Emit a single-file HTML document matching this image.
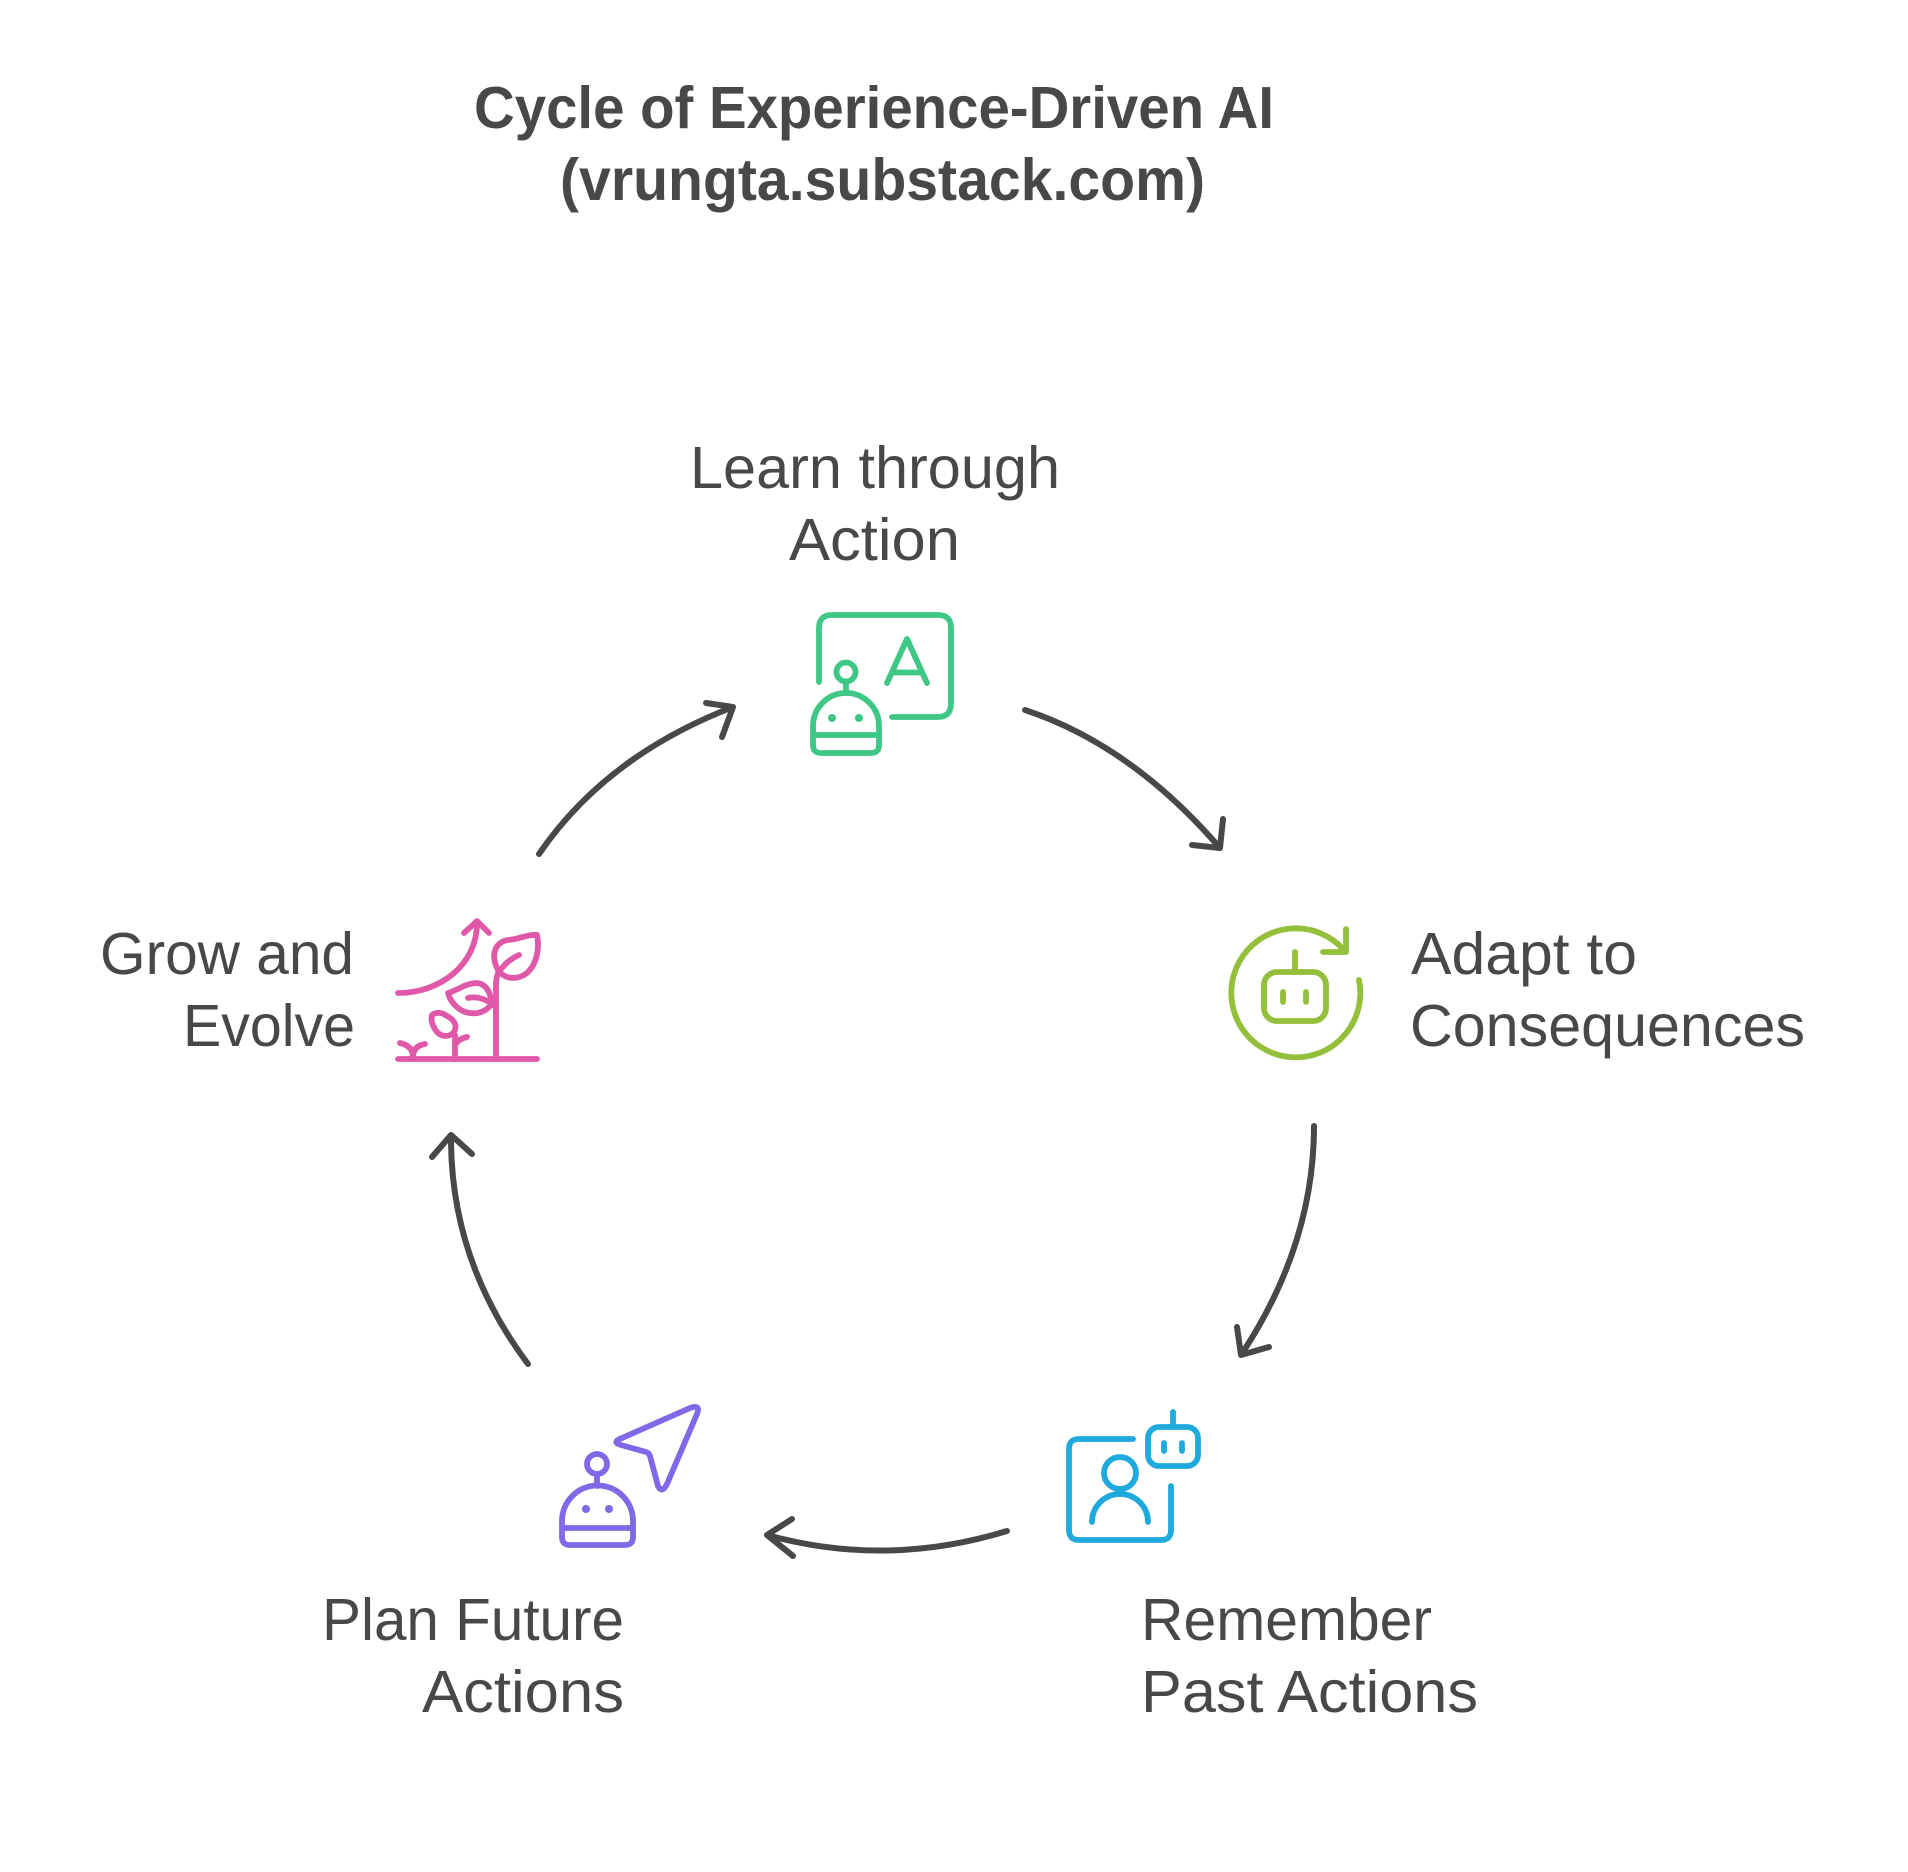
<!DOCTYPE html>
<html>
<head>
<meta charset="utf-8">
<style>
html,body{margin:0;padding:0;background:#fff;}
svg{display:block;}
text{font-family:"Liberation Sans",sans-serif;fill:#484848;}
.t{font-size:59px;font-weight:700;}
.l{font-size:59px;}
.i{fill:none;stroke-width:5.8;stroke-linecap:round;stroke-linejoin:round;}
.a{fill:none;stroke:#484848;stroke-width:6;stroke-linecap:round;stroke-linejoin:round;}
</style>
</head>
<body>
<svg width="1908" height="1872" viewBox="0 0 1908 1872" xmlns="http://www.w3.org/2000/svg">
<rect width="1908" height="1872" fill="#fff"/>

<text class="t" x="474" y="128" textLength="800" lengthAdjust="spacingAndGlyphs">Cycle of Experience-Driven AI</text>
<text class="t" x="560" y="200" textLength="645" lengthAdjust="spacingAndGlyphs">(vrungta.substack.com)</text>

<text class="l" x="690" y="488" textLength="370" lengthAdjust="spacingAndGlyphs">Learn through</text>
<text class="l" x="789" y="560" textLength="171" lengthAdjust="spacingAndGlyphs">Action</text>

<text class="l" x="1411" y="974" textLength="226" lengthAdjust="spacingAndGlyphs">Adapt to</text>
<text class="l" x="1410" y="1046" textLength="395" lengthAdjust="spacingAndGlyphs">Consequences</text>

<text class="l" x="1141" y="1640" textLength="291" lengthAdjust="spacingAndGlyphs">Remember</text>
<text class="l" x="1141" y="1712" textLength="337" lengthAdjust="spacingAndGlyphs">Past Actions</text>

<text class="l" x="322" y="1640" textLength="302" lengthAdjust="spacingAndGlyphs">Plan Future</text>
<text class="l" x="422" y="1712" textLength="202" lengthAdjust="spacingAndGlyphs">Actions</text>

<text class="l" x="100" y="974" textLength="254" lengthAdjust="spacingAndGlyphs">Grow and</text>
<text class="l" x="183" y="1046" textLength="172" lengthAdjust="spacingAndGlyphs">Evolve</text>

<!-- connectors -->
<path class="a" d="M1025 710 Q1131 745 1220 848 M1223 819 L1220 848 L1192 845"/>
<path class="a" d="M1314 1126 Q1314 1245 1241 1355 M1237 1327 L1241 1355 L1269 1347"/>
<path class="a" d="M1007 1531 Q886 1568 767 1535 M792 1519 L767 1535 L793 1556"/>
<path class="a" d="M528 1364 Q450 1260 451 1135 M432 1157 L451 1135 L472 1154"/>
<path class="a" d="M539 854 Q606 756 733 707 M706 703 L733 707 L722 737"/>

<!-- green learn icon -->
<g class="i" stroke="#3EC785">
<path d="M819 682 V628 Q819 615 832 615 H938 Q951 615 951 628 V703 Q951 717 938 717 H892"/>
<path d="M887 683 L907 639 L927 683 M893 672.5 H922"/>
<circle cx="846" cy="672" r="9.5"/>
<path d="M846 682 V692"/>
<path d="M813 735 V726 A33 33 0 0 1 879 726 V745 Q879 753 871 753 H821 Q813 753 813 745 Z M813 735 H879"/>
</g>
<circle cx="832" cy="718" r="4" fill="#3EC785"/>
<circle cx="859" cy="718" r="4" fill="#3EC785"/>

<!-- lime adapt icon -->
<g class="i" stroke="#94BF3A" transform="translate(-1,-1)">
<path d="M1360 981 A64.5 64.5 0 1 1 1345 951"/>
<path d="M1347 930 V953 H1324"/>
<rect x="1265" y="973" width="62" height="49" rx="13"/>
<path d="M1296 953 V973 M1284 993 V1003 M1307 993 V1003"/>
</g>

<!-- blue remember icon -->
<g class="i" stroke="#1FAADD">
<path d="M1133 1439 H1079 Q1069 1439 1069 1449 V1530 Q1069 1540 1079 1540 H1161 Q1171 1540 1171 1530 V1486"/>
<circle cx="1120" cy="1473" r="16"/>
<path d="M1092 1522 A28 28 0 0 1 1148 1522"/>
<rect x="1148" y="1427" width="50" height="39" rx="11"/>
<path d="M1173 1412 V1427 M1164 1443 V1451 M1182 1443 V1451"/>
</g>

<!-- purple plan icon -->
<g class="i" stroke="#8068E6">
<path d="M622 1438 L690 1408 Q701 1404 697 1414 L667 1484 Q662 1494 658 1486 L650 1456 Q649 1453 646 1452 L621 1445 Q611 1442 622 1438 Z"/>
<circle cx="597" cy="1464" r="10"/>
<path d="M597 1474 V1486"/>
<path d="M562 1528 V1521 A35.5 35.5 0 0 1 633 1521 V1537 Q633 1545 625 1545 H570 Q562 1545 562 1537 Z M562 1528 H633"/>
</g>
<circle cx="586" cy="1509" r="4" fill="#8068E6"/>
<circle cx="609" cy="1509" r="4" fill="#8068E6"/>

<!-- pink grow icon -->
<g class="i" stroke="#E058A8">
<path d="M398 1059 H537"/>
<path d="M398 993 C440 993 477 965 477 923 M464 933 L477 921 L489 933"/>
<path d="M496 1059 V985 Q496 973 502 968 Q508 960 519 955"/>
<path d="M498 970 C490 955 495 942 508 940 C520 939 528 934 537 935 C540 950 536 965 527 973 C518 980 505 980 498 970 Z"/>
<path d="M448 993 C458 990 466 983 477 983 C487 984 492 995 491 1005 C484 1013 475 1015 465 1012 C457 1009 450 1001 448 993 Z"/>
<path d="M468 998 Q482 995 496 1007"/>
<path d="M455 1059 V1035"/>
<path d="M432 1015 C436 1012 442 1012 447 1016 C453 1019 457 1024 455 1030 C452 1036 446 1037 441 1035 C435 1032 430 1022 432 1015 Z"/>
<path d="M455 1045 Q458 1039 467 1037"/>
<path d="M400 1043 Q413 1046 413 1057 M425 1044 Q413 1046 413 1057"/>
</g>
</svg>
</body>
</html>
